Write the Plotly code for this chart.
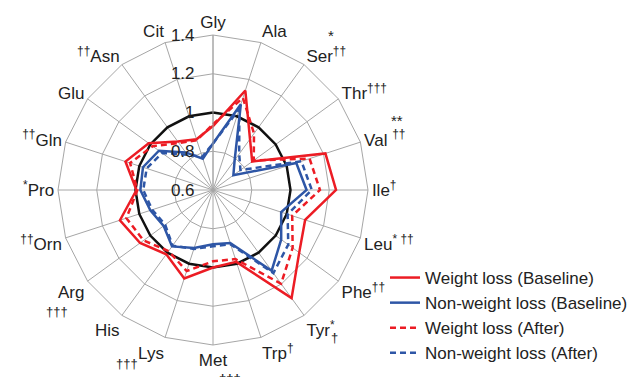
import plotly.graph_objects as go

categories = ["Gly", "Ala", "Ser", "Thr", "Val", "Ile", "Leu", "Phe", "Tyr", "Trp",
              "Met", "Lys", "His", "Arg", "Orn", "Pro", "Gln", "Glu", "Asn", "Cit"]

tick_labels = ["Gly", "Ala", "Ser<sup>††</sup>", "Thr<sup>†††</sup>", "Val <sup>††</sup>",
               "Ile<sup>†</sup>", "Leu<sup>* ††</sup>", "Phe<sup>††</sup>", "Tyr<sup>*</sup>",
               "Trp<sup>†</sup>", "Met", "Lys", "His", "Arg", "<sup>††</sup>Orn",
               "<sup>*</sup>Pro", "<sup>††</sup>Gln", "Glu", "<sup>††</sup>Asn", "Cit"]

reference = [1.0] * 20

wl_baseline = [0.93, 1.14, 0.925, 0.85, 1.21, 1.235, 1.10, 1.15, 1.29, 0.99,
               1.00, 1.08, 1.01, 1.065, 1.105, 0.995, 1.075, 1.01, 0.91, 0.875]
nwl_baseline = [0.84, 1.065, 0.79, 0.73, 1.052, 1.083, 0.97, 1.035, 1.115, 0.888,
                0.88, 0.915, 0.96, 0.915, 0.94, 0.975, 0.98, 0.945, 0.84, 0.77]
wl_after = [0.94, 1.10, 0.96, 0.86, 1.124, 1.152, 1.03, 1.108, 1.198, 0.975,
            0.968, 1.04, 0.99, 1.043, 1.07, 0.99, 1.05, 0.985, 0.90, 0.87]
nwl_after = [0.84, 1.04, 0.83, 0.775, 1.08, 1.11, 1.005, 1.08, 1.13, 0.895,
             0.89, 0.92, 0.955, 0.905, 0.93, 0.96, 0.96, 0.925, 0.825, 0.78]

radial_ticks = [0.6, 0.8, 1.0, 1.2, 1.4]
radial_ticktext = ["0.6", "0.8", "1", "1.2", "1.4"]

RED = "#ec1c24"
BLUE = "#2e56a6"
FONT = "Liberation Sans, Arial, sans-serif"


def closed(vals):
    return list(vals) + [vals[0]]


theta = closed(categories)

fig = go.Figure()
fig.add_trace(go.Scatterpolar(r=closed(reference), theta=theta, mode="lines",
                              line=dict(color="#111111", width=2.5), showlegend=False,
                              hoverinfo="skip"))
series = [
    ("Weight loss (Baseline)", wl_baseline, RED, "solid"),
    ("Non-weight loss (Baseline)", nwl_baseline, BLUE, "solid"),
    ("Weight loss (After)", wl_after, RED, "6px,4px"),
    ("Non-weight loss (After)", nwl_after, BLUE, "6px,4px"),
]
for name, vals, color, dash in series:
    fig.add_trace(go.Scatterpolar(r=closed(vals), theta=theta, mode="lines", name=name,
                                  line=dict(color=color, width=2.5, dash=dash)))

annots = [
    ("*", 331, 35, 15), ("**", 397, 120, 15), ("†", 334, 337, 13),
    ("†††", 230, 378, 13), ("†††", 127, 363, 13), ("†††", 57, 311, 13),
]
annotations = [dict(text=t, x=px / 641, y=1 - py / 377, xref="paper", yref="paper",
                    showarrow=False, xanchor="center", yanchor="middle",
                    font=dict(size=s, color="#222222", family=FONT))
               for t, px, py, s in annots]

fig.update_layout(
    width=641, height=377,
    margin=dict(l=0, r=0, t=0, b=0),
    paper_bgcolor="white",
    font=dict(family=FONT, size=17, color="#222222"),
    polar=dict(
        domain=dict(x=[58 / 641, 368 / 641], y=[1 - 345 / 377, 1 - 35 / 377]),
        bgcolor="white",
        gridshape="linear",
        angularaxis=dict(
            type="category", categoryorder="array", categoryarray=categories,
            direction="clockwise", rotation=90,
            tickmode="array", tickvals=categories, ticktext=tick_labels,
            showline=True, linecolor="#a6a6a6", linewidth=1,
            gridcolor="#a6a6a6", gridwidth=1, ticks="",
            tickfont=dict(size=17, color="#222222", family=FONT),
        ),
        radialaxis=dict(
            range=[0.6, 1.4], tickmode="array", tickvals=radial_ticks, ticktext=radial_ticktext,
            angle=90, tickangle=90, side="counterclockwise", showline=True, linecolor="#a6a6a6",
            gridcolor="#a6a6a6", gridwidth=1, ticks="outside", ticklen=12,
            tickcolor="rgba(0,0,0,0)", tickfont=dict(size=17, color="#222222", family=FONT),
        ),
    ),
    legend=dict(x=385 / 641, y=1 - 260 / 377, xanchor="left", yanchor="top",
                bgcolor="rgba(0,0,0,0)", font=dict(size=17, color="#222222", family=FONT),
                tracegroupgap=0),
    annotations=annotations,
    showlegend=True,
)

fig.write_html("out.html", config={"displayModeBar": False},
               post_script="document.body.style.margin='0';")
